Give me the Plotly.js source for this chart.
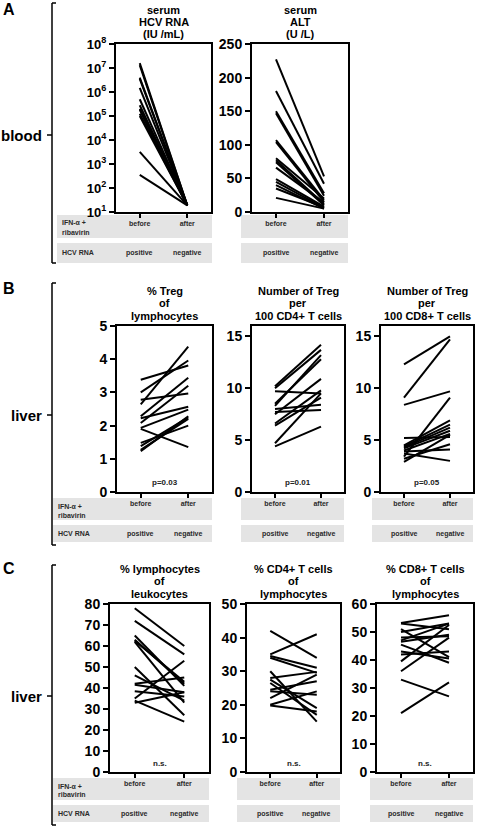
<!DOCTYPE html>
<html><head><meta charset="utf-8">
<script src="https://cdn.plot.ly/plotly-3.0.1.min.js"></script>
<style>html,body{margin:0;padding:0;background:#fff}</style>
</head><body><div id="chart" style="width:480px;height:828px"></div>
<script>
// ---------- DATA ----------
const timepoints = [0, 1]; // before, after
const row1Label = ["IFN-α +", "ribavirin"];
const row1Values = ["before", "after"];
const row2Label = "HCV RNA";
const row2Values = ["positive", "negative"];

// Panel A - blood
const hcvTitle = ["serum", "HCV RNA", "(IU /mL)"];
const hcvBefore = [1.6e7, 1.3e7, 4e6, 3.5e6, 1.5e6, 5e5, 2.8e5, 2e5, 1.8e5, 1.25e5, 1e5, 3.2e3, 3.5e2];
const hcvAfter  = [19, 19, 19, 19, 19, 19, 19, 19, 19, 19, 19, 19, 19];
const hcvTickVals = [1e1, 1e2, 1e3, 1e4, 1e5, 1e6, 1e7, 1e8];
const hcvTickText = ["10<sup>1</sup>", "10<sup>2</sup>", "10<sup>3</sup>", "10<sup>4</sup>", "10<sup>5</sup>", "10<sup>6</sup>", "10<sup>7</sup>", "10<sup>8</sup>"];

const altTitle = ["serum", "ALT", "(U /L)"];
const altBefore = [227, 180, 150, 147, 107, 104, 80, 77, 74, 66, 49, 45, 40, 35, 21];
const altAfter  = [53, 42, 28, 24, 18, 15, 20, 12, 10, 14, 8, 6, 5, 7, 5];

// Panel B - liver Treg
const tregTitle = ["% Treg", "of", "lymphocytes"];
const tregBefore = [3.38, 3.0, 2.78, 2.64, 2.28, 2.22, 2.08, 1.93, 1.9, 1.48, 1.38, 1.27, 1.23];
const tregAfter  = [3.81, 3.96, 2.97, 4.38, 3.44, 2.57, 3.2, 2.48, 1.35, 2.0, 2.25, 2.2, 2.28];
const tregP = "p=0.03";

const cd4TregTitle = ["Number of Treg", "per", "100 CD4+ T cells"];
const cd4TregBefore = [10.2, 10.0, 9.7, 8.5, 8.3, 8.0, 7.7, 7.5, 6.6, 6.4, 4.7, 4.4];
const cd4TregAfter  = [14.2, 13.7, 9.5, 12.8, 13.2, 8.4, 7.9, 10.9, 9.8, 9.1, 9.5, 6.3];
const cd4TregP = "p=0.01";

const cd8TregTitle = ["Number of Treg", "per", "100 CD8+ T cells"];
const cd8TregBefore = [12.3, 9.1, 8.4, 5.2, 4.5, 4.4, 4.3, 4.2, 4.0, 3.9, 3.7, 3.4, 3.2, 2.9];
const cd8TregAfter  = [15.0, 14.7, 9.7, 5.3, 6.9, 6.5, 6.2, 5.9, 5.6, 4.1, 3.0, 9.1, 4.6, 5.5];
const cd8TregP = "p=0.05";

// Panel C - liver lymphocytes
const lymphTitle = ["% lymphocytes", "of", "leukocytes"];
const lymphBefore = [78, 72, 65, 63, 62.5, 62, 50, 46, 42, 41.5, 38.5, 35, 34, 33];
const lymphAfter  = [60, 56, 41, 42, 43, 33, 27, 34, 45, 38, 36, 53, 24, 38];

const cd4Title = ["% CD4+ T cells", "of", "lymphocytes"];
const cd4Before = [42, 35, 34.5, 34, 30, 28, 27.5, 26.5, 24.5, 24, 22, 20, 19.8];
const cd4After  = [34, 41, 31, 29.5, 15, 29.8, 19, 17, 27, 23, 29, 24, 18];

const cd8Title = ["% CD8+ T cells", "of", "lymphocytes"];
const cd8Before = [53.2, 53, 51, 50, 48, 47, 46.5, 45.5, 43, 42, 39.5, 36, 33, 21];
const cd8After  = [56, 51, 41, 53, 48.5, 53, 49, 39, 40.5, 43, 52.5, 48, 27, 32];
const nsLabel = "n.s.";

const groupLetters = ["A", "B", "C"];
const groupTissues = ["blood", "liver", "liver"];

// ---------- LAYOUT ----------
const W = 480, H = 828;
const fx = p => p / W, fy = p => 1 - p / H;
const FONT = "Liberation Sans, Arial, Helvetica, sans-serif";
const SMALL = {family: FONT, size: 7, color: "#2a2a2a", weight: "bold"};

const panels = [
  {box:[116,211,44,212], log:true, range:[1,8], tv:hcvTickVals, tt:hcvTickText, b:hcvBefore, a:hcvAfter, title:hcvTitle, ty:9.5, note:null},
  {box:[252,348,44,212], range:[0,250], dtick:50, b:altBefore, a:altAfter, title:altTitle, ty:9.5, note:null},
  {box:[117,212,326,492], range:[0,5], dtick:1, b:tregBefore, a:tregAfter, title:tregTitle, ty:290.5, note:tregP, ny:482},
  {box:[252,344,326,492], range:[0,16], dtick:5, b:cd4TregBefore, a:cd4TregAfter, title:cd4TregTitle, ty:290.5, note:cd4TregP, ny:482},
  {box:[381,473,326,492], range:[0,16], dtick:5, b:cd8TregBefore, a:cd8TregAfter, title:cd8TregTitle, ty:290.5, note:cd8TregP, ny:482},
  {box:[110,209,604,772], range:[0,80], dtick:10, b:lymphBefore, a:lymphAfter, title:lymphTitle, ty:568.5, note:nsLabel, ny:763},
  {box:[247,340,604,772], range:[0,50], dtick:10, b:cd4Before, a:cd4After, title:cd4Title, ty:568.5, note:nsLabel, ny:763},
  {box:[377,473,604,772], range:[0,60], dtick:10, b:cd8Before, a:cd8After, title:cd8Title, ty:568.5, note:nsLabel, ny:763},
];

// groups: bracket and gray rows
const groups = [
  {bracket:[3,263], mid:135, letterY:9, rows:[[215,238],[243,263]], r1:223, r1b:232, r2:252.5, gx:[[57,212],[241,348]], panelIdx:[0,1]},
  {bracket:[283,545], mid:415, letterY:288, rows:[[498,520],[525,542]], r1:506, r1b:515, r2:533.5, gx:[[53,212],[241,344],[372,473]], panelIdx:[2,3,4]},
  {bracket:[565,825], mid:696, letterY:568, rows:[[778,800],[805,822]], r1:786, r1b:794, r2:813.5, gx:[[53,209],[237,340],[370,473]], panelIdx:[5,6,7]},
];

const traces = [];
const layout = {
  width: W, height: H,
  margin: {l:0, r:0, t:0, b:0},
  paper_bgcolor: "#fff", plot_bgcolor: "#fff",
  showlegend: false,
  font: {family: FONT, color: "#000"},
  annotations: [], shapes: []
};

panels.forEach((p, i) => {
  const n = i + 1;
  const xs = [], ys = [];
  p.b.forEach((v, k) => { xs.push(timepoints[0], timepoints[1], null); ys.push(v, p.a[k], null); });
  traces.push({x: xs, y: ys, mode: "lines", line: {color: "#000", width: 2}, hoverinfo: "skip",
               xaxis: "x" + n, yaxis: "y" + n, connectgaps: false});
  const [l, r, t, b] = p.box;
  layout["xaxis" + n] = {
    domain: [fx(l), fx(r)], range: [-0.5, 1.5], anchor: "y" + n,
    showline: true, mirror: true, linecolor: "#000", linewidth: 2,
    ticks: "outside", tickvals: timepoints, ticktext: row1Values, ticklen: 4, tickwidth: 2, tickcolor: "#000",
    showticklabels: true, tickfont: SMALL,
    showgrid: false, zeroline: false, fixedrange: true
  };
  const ya = {
    domain: [fy(b), fy(t)], range: p.range, anchor: "x" + n,
    showline: true, mirror: true, linecolor: "#000", linewidth: 2,
    ticks: "outside", ticklen: 5, tickwidth: 2, tickcolor: "#000",
    tickfont: {family: FONT, size: 14, color: "#000", weight: "bold"},
    showgrid: false, zeroline: false, fixedrange: true
  };
  if (p.log) { ya.type = "log"; ya.tickvals = p.tv; ya.ticktext = p.tt; ya.tickfont.size = 13; }
  else { ya.tick0 = 0; ya.dtick = p.dtick; }
  layout["yaxis" + n] = ya;

  p.title.forEach((line, j) => {
    layout.annotations.push({text: line, xref: "paper", yref: "paper", x: fx((l + r) / 2), y: fy(p.ty + j * 12.5),
      xanchor: "center", yanchor: "middle", showarrow: false,
      font: {family: FONT, size: 11, color: "#000", weight: "bold"}});
  });
  if (p.note) {
    layout.annotations.push({text: p.note, xref: "paper", yref: "paper", x: fx((l + r) / 2), y: fy(p.ny),
      xanchor: "center", yanchor: "middle", showarrow: false,
      font: {family: FONT, size: 8, color: "#222", weight: "bold"}});
  }
});

groups.forEach((g, gi) => {
  // bracket
  const bx = 52;
  const ln = {color: "#000", width: 1.5};
  layout.shapes.push({type: "line", xref: "paper", yref: "paper", x0: fx(bx), x1: fx(bx), y0: fy(g.bracket[0]), y1: fy(g.bracket[1]), line: ln});
  layout.shapes.push({type: "line", xref: "paper", yref: "paper", x0: fx(bx), x1: fx(bx + 4), y0: fy(g.bracket[0]), y1: fy(g.bracket[0]), line: ln});
  layout.shapes.push({type: "line", xref: "paper", yref: "paper", x0: fx(bx), x1: fx(bx + 4), y0: fy(g.bracket[1]), y1: fy(g.bracket[1]), line: ln});
  layout.shapes.push({type: "line", xref: "paper", yref: "paper", x0: fx(bx - 5), x1: fx(bx), y0: fy(g.mid), y1: fy(g.mid), line: ln});
  layout.annotations.push({text: groupTissues[gi], xref: "paper", yref: "paper", x: fx(44), y: fy(g.mid),
    xanchor: "right", yanchor: "middle", showarrow: false, font: {family: FONT, size: 15, color: "#000", weight: "bold"}});
  layout.annotations.push({text: groupLetters[gi], xref: "paper", yref: "paper", x: fx(1), y: fy(g.letterY),
    xanchor: "left", yanchor: "middle", showarrow: false, font: {family: FONT, size: 16, color: "#000", weight: "bold"}});

  // gray rows
  g.gx.forEach((gx, k) => {
    g.rows.forEach(rw => {
      layout.shapes.push({type: "rect", xref: "paper", yref: "paper", layer: "below",
        x0: fx(gx[0]), x1: fx(gx[1]), y0: fy(rw[1]), y1: fy(rw[0]), fillcolor: "#e4e4e4", line: {width: 0}});
    });
    const pn = g.panelIdx[k] + 1;
    row2Values.forEach((t, m) => {
      layout.annotations.push({text: t, xref: "x" + pn, yref: "paper", x: timepoints[m], y: fy(g.r2),
        xanchor: "center", yanchor: "middle", showarrow: false, font: SMALL});
    });
  });
  const lx = fx(g.gx[0][0] + 3);
  layout.annotations.push({text: row1Label[0], xref: "paper", yref: "paper", x: lx, y: fy(g.r1), xanchor: "left", yanchor: "middle", showarrow: false, font: SMALL});
  layout.annotations.push({text: row1Label[1], xref: "paper", yref: "paper", x: lx, y: fy(g.r1b), xanchor: "left", yanchor: "middle", showarrow: false, font: SMALL});
  layout.annotations.push({text: row2Label, xref: "paper", yref: "paper", x: lx, y: fy(g.r2), xanchor: "left", yanchor: "middle", showarrow: false, font: SMALL});
});

Plotly.newPlot("chart", traces, layout, {staticPlot: true, displayModeBar: false});
</script>
</body></html>
